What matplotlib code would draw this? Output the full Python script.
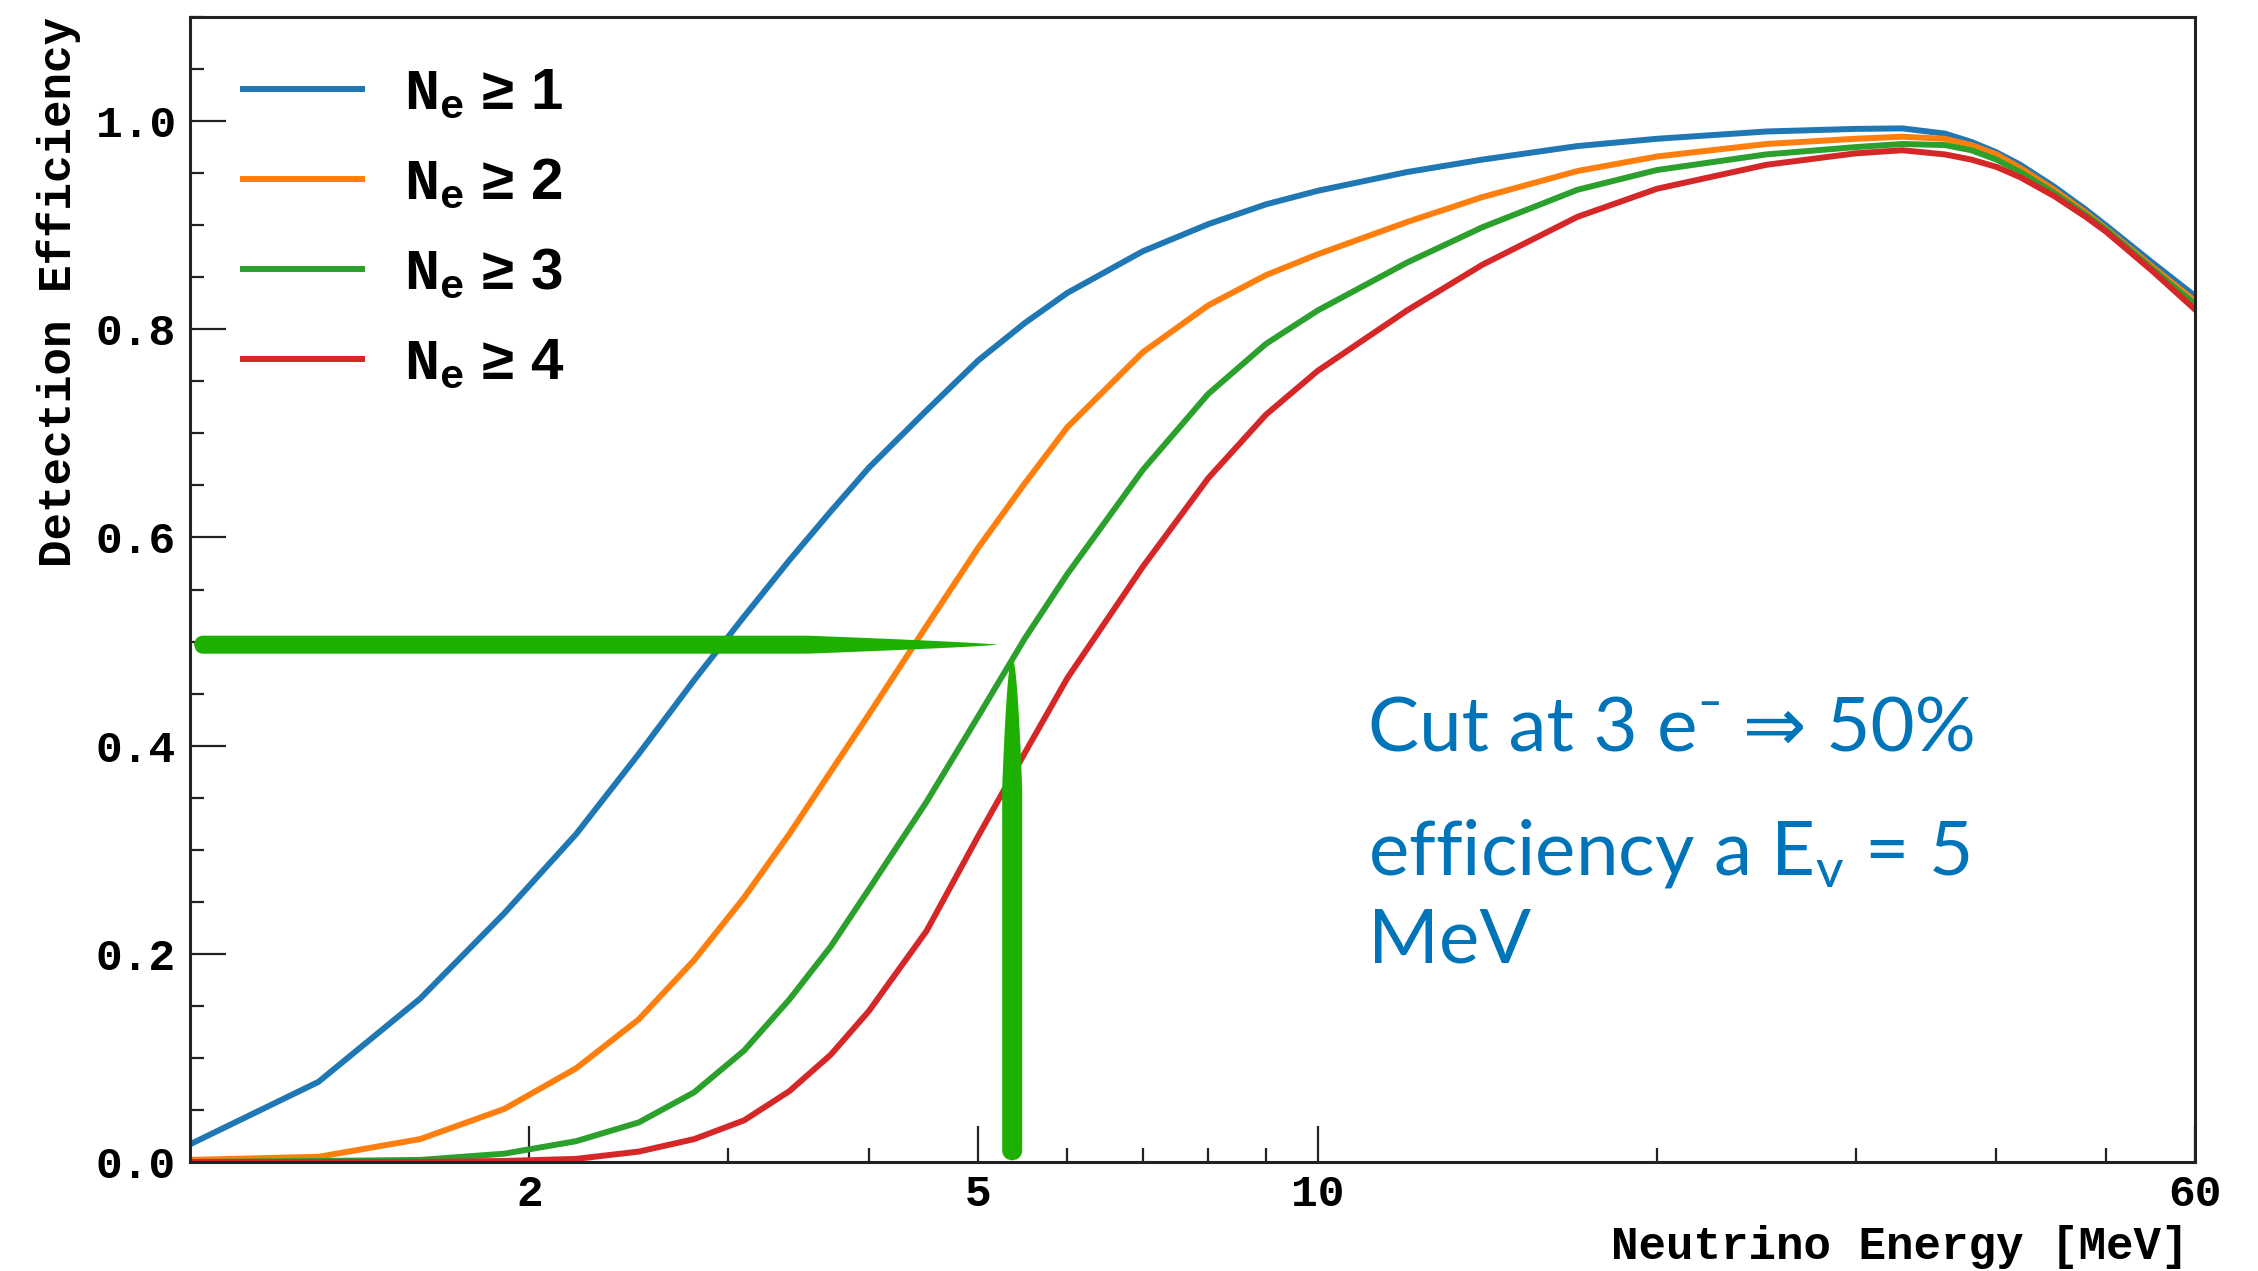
import numpy as np
import matplotlib
matplotlib.use("Agg")
import matplotlib.pyplot as plt
from matplotlib.ticker import FixedLocator, FuncFormatter, MultipleLocator, NullFormatter
from matplotlib.patches import Polygon
from matplotlib.transforms import IdentityTransform

# ---- data -------------------------------------------------------------
energy = [1.0, 1.3, 1.6, 1.9, 2.2, 2.5, 2.8, 3.1, 3.4, 3.7, 4.0, 4.5, 5.0, 5.5,
          6.0, 7.0, 8.0, 9.0, 10, 12, 14, 17, 20, 25, 30, 33, 36, 38, 40, 42,
          45, 48, 50, 55, 60]

eff_ne1 = [0.017, 0.077, 0.157, 0.239, 0.315, 0.392, 0.463, 0.524, 0.578, 0.625,
           0.667, 0.722, 0.770, 0.806, 0.835, 0.875, 0.901, 0.920, 0.933, 0.951,
           0.963, 0.976, 0.983, 0.990, 0.9925, 0.993, 0.988, 0.980, 0.970, 0.958,
           0.937, 0.915, 0.900, 0.864, 0.832]

eff_ne2 = [0.002, 0.005, 0.022, 0.051, 0.090, 0.137, 0.194, 0.254, 0.315, 0.375,
           0.430, 0.515, 0.590, 0.652, 0.706, 0.778, 0.823, 0.852, 0.872, 0.903,
           0.927, 0.952, 0.966, 0.978, 0.983, 0.985, 0.983, 0.977, 0.968, 0.955,
           0.934, 0.912, 0.897, 0.860, 0.827]

eff_ne3 = [0.000, 0.001, 0.002, 0.008, 0.020, 0.038, 0.067, 0.107, 0.156, 0.207,
           0.262, 0.346, 0.428, 0.503, 0.565, 0.665, 0.738, 0.786, 0.818, 0.864,
           0.898, 0.934, 0.953, 0.968, 0.975, 0.978, 0.977, 0.972, 0.963, 0.951,
           0.931, 0.910, 0.896, 0.858, 0.824]

eff_ne4 = [0.000, 0.000, 0.000, 0.001, 0.003, 0.010, 0.022, 0.040, 0.068, 0.103,
           0.145, 0.222, 0.313, 0.393, 0.465, 0.572, 0.657, 0.718, 0.760, 0.818,
           0.862, 0.908, 0.935, 0.958, 0.969, 0.972, 0.968, 0.963, 0.956, 0.946,
           0.928, 0.908, 0.894, 0.856, 0.819]

series_labels = ["1", "2", "3", "4"]
series_colors = ["#1f77b4", "#ff7f0e", "#2ca02c", "#d62728"]

x_major = [2, 5, 10, 60]
x_minor = [3, 4, 6, 7, 8, 9, 20, 30, 40, 50]

# highlighted working point: 50 % efficiency for the N_e >= 3 cut
cut_eff = 0.497
cut_energy = 5.36

note_lines = ["Cut at 3 e\u207b \u21d2 50%",
              "efficiency a E$_{\\mathregular{v}}$ = 5",
              "MeV"]

# ---- style ------------------------------------------------------------
plt.rcParams["mathtext.fontset"] = "custom"
plt.rcParams["mathtext.rm"] = "Liberation Mono:bold"
plt.rcParams["mathtext.it"] = "Liberation Mono:bold"
plt.rcParams["mathtext.bf"] = "Liberation Mono:bold"

mono = dict(family=["Liberation Mono", "DejaVu Sans Mono"], weight="bold")

W, H, DPI = 2258, 1271, 100
fig = plt.figure(figsize=(W / DPI, H / DPI), dpi=DPI)
ax = fig.add_axes([190 / W, 1 - 1162 / H, (2195 - 190) / W, (1162 - 17) / H])

for vals, lab, col in zip([eff_ne1, eff_ne2, eff_ne3, eff_ne4], series_labels, series_colors):
    ax.plot(energy, vals, color=col, lw=4.3, solid_joinstyle="round",
            label="$\\mathrm{N}_{\\mathrm{e}}$ \u2265 " + lab)

ax.set_xscale("log")
ax.set_xlim(1, 60)
ax.set_ylim(0, 1.1)

ax.xaxis.set_major_locator(FixedLocator(x_major))
ax.xaxis.set_minor_locator(FixedLocator(x_minor))
ax.xaxis.set_major_formatter(FuncFormatter(lambda v, p: f"{v:g}"))
ax.xaxis.set_minor_formatter(NullFormatter())
ax.yaxis.set_major_locator(MultipleLocator(0.2))
ax.yaxis.set_minor_locator(MultipleLocator(0.05))
ax.yaxis.set_major_formatter(FuncFormatter(lambda v, p: f"{v:.1f}"))

ax.tick_params(which="both", direction="in", top=False, right=False, width=1.6, color="#222222")
ax.tick_params(which="major", length=26)
ax.tick_params(which="minor", length=10)
ax.tick_params(axis="y", which="major", pad=10)
ax.tick_params(axis="x", which="major", pad=9)
for lbl in ax.get_xticklabels() + ax.get_yticklabels():
    lbl.set_fontfamily(mono["family"])
    lbl.set_fontweight("bold")
    lbl.set_fontsize(32)

for sp in ax.spines.values():
    sp.set_linewidth(2.2)
    sp.set_color("#222222")

ax.set_xlabel("Neutrino Energy [MeV]", fontsize=33, loc="right", **mono)
ax.xaxis.set_label_coords(0.997, -0.055)
ax.set_ylabel("Detection Efficiency", fontsize=33, loc="top", **mono)
ax.yaxis.set_label_coords(-0.0545, 1.0)

leg = ax.legend(loc="upper left", bbox_to_anchor=(0.006, 0.992), frameon=False,
                prop=dict(family=["Liberation Sans", "DejaVu Sans"], weight="bold", size=42),
                handlelength=2.05, handletextpad=0.72, labelspacing=0.62, borderpad=0.2)
for line in leg.get_lines():
    line.set_linewidth(4.3)

# ---- hand-drawn style highlight strokes --------------------------------
def brush(p0, p1, width_px, round0, round1, taper0, taper1, color="#1eb000"):
    a = ax.transData.transform(p0)
    b = ax.transData.transform(p1)
    d = b - a
    L = np.hypot(*d)
    u = d / L
    n = np.array([-u[1], u[0]])
    s = np.linspace(0, L, 400)
    r = width_px / 2.0
    hw = np.full_like(s, r)
    if round0:
        m = s < r
        hw[m] = r * np.sqrt(np.clip(1 - ((r - s[m]) / r) ** 2, 0, 1))
    if round1:
        e = L - s
        m = e < r
        hw[m] = r * np.sqrt(np.clip(1 - ((r - e[m]) / r) ** 2, 0, 1))
    if taper0 > 0:
        m = s < taper0
        hw[m] = r * (s[m] / taper0) ** 0.5
    if taper1 > 0:
        e = L - s
        m = e < taper1
        hw[m] = r * (e[m] / taper1) ** 0.8
    pts = a + np.outer(s, u)
    upper = pts + hw[:, None] * n
    lower = pts - hw[:, None] * n
    verts = np.vstack([upper, lower[::-1]])
    poly = Polygon(verts, closed=True, facecolor=color, edgecolor="none",
                   transform=IdentityTransform(), clip_on=False, zorder=5)
    ax.add_patch(poly)

brush((1.008, cut_eff), (5.2, cut_eff), 18, True, False, 0, 190)
brush((cut_energy, 0.484), (cut_energy, 0.0015), 20, False, True, 130, 0)

# ---- annotation -------------------------------------------------------
note_y = [0.3581, 0.2507, 0.1738]
for txt, yy in zip(note_lines, note_y):
    ax.text(0.5875, yy, txt, transform=ax.transAxes, ha="left", va="baseline",
            color="#0074b8", fontsize=55, family=["Lato", "DejaVu Sans"])

fig.savefig("out.png", dpi=DPI)
